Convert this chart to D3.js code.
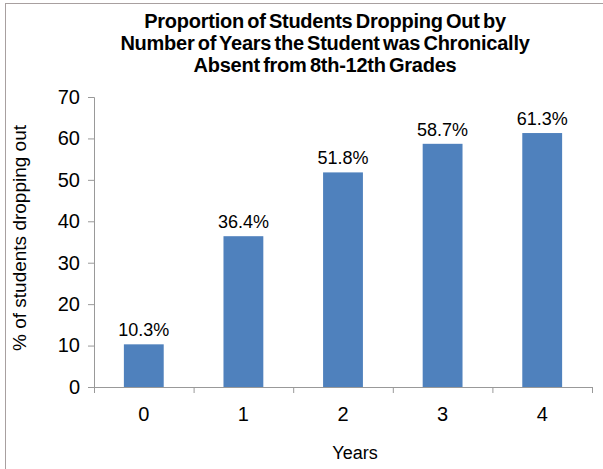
<!DOCTYPE html>
<html>
<head>
<meta charset="utf-8">
<script src="https://cdn.jsdelivr.net/npm/d3@7"></script>
<style>
  body { margin: 0; background: #fff; }
  svg { display: block; font-family: "Liberation Sans", Arial, sans-serif; }
</style>
</head>
<body>
<div id="chart"></div>
<script>
// chart data
const years = ["0", "1", "2", "3", "4"];
const dropoutPct = [10.3, 36.4, 51.8, 58.7, 61.3];
const yTicks = [0, 10, 20, 30, 40, 50, 60, 70];
const titleLines = [
  "Proportion of Students Dropping Out by",
  "Number of Years the Student was Chronically",
  "Absent from 8th-12th Grades"
];

const width = 603, height = 469;
const plot = { left: 94, right: 592, top: 97, bottom: 387 };

const svg = d3.select("#chart").append("svg")
  .attr("width", width)
  .attr("height", height);

// outer frame
svg.append("rect")
  .attr("x", 5.5).attr("y", 3.5)
  .attr("width", 620).attr("height", 500)
  .attr("fill", "none")
  .attr("stroke", "#a8a0a0");

// scales
const x = d3.scaleBand()
  .domain(years)
  .range([plot.left, plot.right])
  .paddingInner(0.6)
  .paddingOuter(0.3);

const xEdges = d3.scaleLinear()
  .domain([0, years.length])
  .range([plot.left, plot.right]);

const y = d3.scaleLinear()
  .domain([0, 70])
  .range([plot.bottom, plot.top]);

// title
svg.append("g").selectAll("text")
  .data(titleLines)
  .join("text")
  .attr("x", 325)
  .attr("y", (d, i) => 28 + i * 22)
  .attr("text-anchor", "middle")
  .attr("font-weight", "bold")
  .attr("font-size", 20)
  .attr("letter-spacing", -0.25)
  .attr("word-spacing", -2)
  .attr("fill", "#000")
  .text(d => d);

// y axis
const yAxis = svg.append("g")
  .attr("transform", `translate(${plot.left},0)`)
  .call(d3.axisLeft(y).tickValues(yTicks).tickSize(6).tickPadding(8));
yAxis.select(".domain").attr("stroke", "#999");
yAxis.selectAll(".tick line").attr("stroke", "#999");
yAxis.selectAll(".tick text")
  .attr("font-size", 20)
  .attr("fill", "#000")
  .attr("font-family", "Liberation Sans, Arial, sans-serif");

// x axis (ticks at category edges)
const xAxis = svg.append("g")
  .attr("transform", `translate(0,${plot.bottom})`)
  .call(d3.axisBottom(xEdges).tickValues(d3.range(years.length + 1)).tickFormat("").tickSize(6));
xAxis.select(".domain").attr("stroke", "#999");
xAxis.selectAll(".tick line").attr("stroke", "#999");

svg.append("g").selectAll("text")
  .data(years)
  .join("text")
  .attr("x", d => x(d) + x.bandwidth() / 2)
  .attr("y", plot.bottom + 34)
  .attr("text-anchor", "middle")
  .attr("font-size", 20)
  .text(d => d);

// bars
svg.append("g").selectAll("rect")
  .data(dropoutPct)
  .join("rect")
  .attr("x", (d, i) => x(years[i]))
  .attr("y", d => y(d))
  .attr("width", x.bandwidth())
  .attr("height", d => y(0) - y(d))
  .attr("fill", "#4f81bd");

// value labels
svg.append("g").selectAll("text")
  .data(dropoutPct)
  .join("text")
  .attr("x", (d, i) => x(years[i]) + x.bandwidth() / 2)
  .attr("y", d => y(d) - 8)
  .attr("text-anchor", "middle")
  .attr("font-size", 18)
  .text(d => d.toFixed(1) + "%");

// axis titles
svg.append("text")
  .attr("x", 355)
  .attr("y", 459)
  .attr("text-anchor", "middle")
  .attr("font-size", 18)
  .text("Years");

svg.append("text")
  .attr("transform", `translate(26,238) rotate(-90)`)
  .attr("text-anchor", "middle")
  .attr("font-size", 19)
  .text("% of students dropping out");
</script>
</body>
</html>
